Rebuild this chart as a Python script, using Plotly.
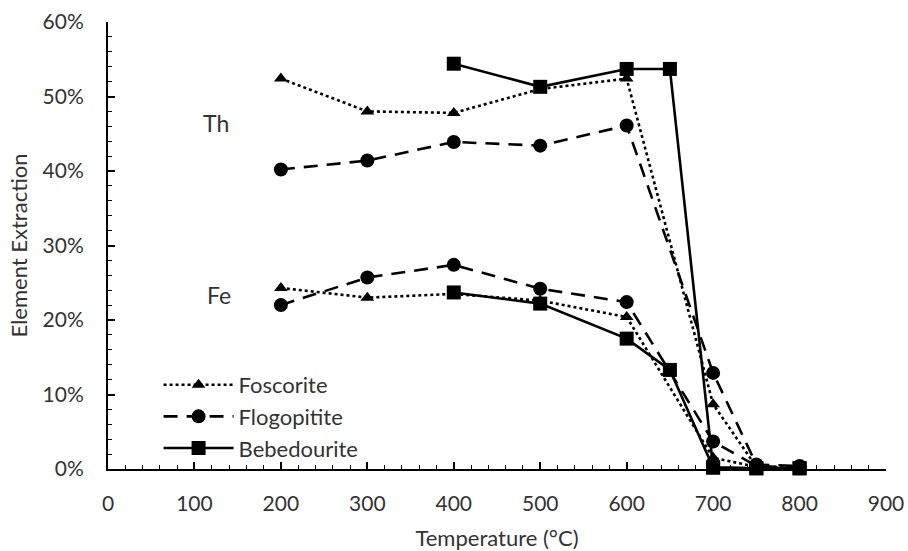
import plotly.graph_objects as go

# Temperatures (°C) for each sample set
temp_fos = [200, 300, 400, 500, 600, 700, 750, 800]
temp_flo = [200, 300, 400, 500, 600, 700, 750, 800]
temp_beb = [400, 500, 600, 650, 700, 750, 800]

# Thorium extraction (%)
th_fos = [52.4, 48.0, 47.8, 51.0, 52.4, 8.7, 0.3, 0.2]
th_flo = [40.2, 41.4, 43.9, 43.4, 46.1, 12.9, 0.6, 0.4]
th_beb = [54.4, 51.3, 53.7, 53.7, 0.2, 0.1, 0.1]

# Iron extraction (%)
fe_fos = [24.3, 23.0, 23.5, 22.6, 20.4, 1.5, 0.3, 0.1]
fe_flo = [22.0, 25.7, 27.4, 24.2, 22.4, 3.7, 0.4, 0.2]
fe_beb = [23.7, 22.2, 17.5, 13.3, 0.2, 0.1, 0.1]

element_labels = ["Th", "Fe"]
label_x = [125, 128]
label_y = [46.4, 23.3]

styles = {
    "Foscorite": dict(dash="dot", symbol="triangle-up", size=12),
    "Flogopitite": dict(dash="14px,9px", symbol="circle", size=14),
    "Bebedourite": dict(dash="solid", symbol="square", size=14),
}

series = [
    ("Foscorite", temp_fos, th_fos, fe_fos),
    ("Flogopitite", temp_flo, th_flo, fe_flo),
    ("Bebedourite", temp_beb, th_beb, fe_beb),
]

FONT = "Lato, 'Open Sans', sans-serif"
TXT = "#333333"

fig = go.Figure()
for name, t, th, fe in series:
    st = styles[name]
    for k, vals in enumerate((th, fe)):
        fig.add_trace(go.Scatter(
            x=t, y=vals, name=name, legendgroup=name,
            showlegend=(k == 0), mode="lines+markers",
            line=dict(color="black", width=2.6, dash=st["dash"]),
            marker=dict(color="black", symbol=st["symbol"], size=st["size"]),
            cliponaxis=False,
        ))

# Element labels beside each group of curves
for txt, lx, ly in zip(element_labels, label_x, label_y):
    fig.add_annotation(x=lx, y=ly, text=txt, showarrow=False,
                       xref="x", yref="y", xanchor="center", yanchor="middle",
                       font=dict(family=FONT, size=23, color=TXT))

fig.update_layout(
    width=908, height=551,
    margin=dict(l=107.5, r=21.5, t=22, b=81.5),
    paper_bgcolor="white", plot_bgcolor="white",
    font=dict(family=FONT, size=21, color=TXT),
    showlegend=True,
    legend=dict(x=0.065, y=0.235, xanchor="left", yanchor="top",
                bgcolor="rgba(0,0,0,0)", font=dict(size=22, color=TXT),
                itemwidth=70, tracegroupgap=0),
    xaxis=dict(
        range=[0, 900], dtick=100, tick0=0, automargin=False,
        showline=True, linecolor="black", linewidth=2,
        ticks="inside", ticklen=7, tickwidth=1.5, tickcolor="black",
        minor=dict(dtick=20, ticks="inside", ticklen=4, tickwidth=1.2, tickcolor="black"),
        showgrid=False, zeroline=False,
        ticklabelstandoff=15,
        title=dict(text="Temperature (°C)", standoff=24, font=dict(size=22, color=TXT)),
    ),
    yaxis=dict(
        range=[0, 60], dtick=10, tick0=0, ticksuffix="%", automargin=False,
        showline=True, linecolor="black", linewidth=2,
        ticks="inside", ticklen=7, tickwidth=1.5, tickcolor="black",
        minor=dict(dtick=2, ticks="inside", ticklen=4, tickwidth=1.2, tickcolor="black"),
        showgrid=False, zeroline=False,
        ticklabelstandoff=18,
        title=dict(text="Element Extraction", standoff=9, font=dict(size=22, color=TXT)),
    ),
)

fig.write_html("out.html")
